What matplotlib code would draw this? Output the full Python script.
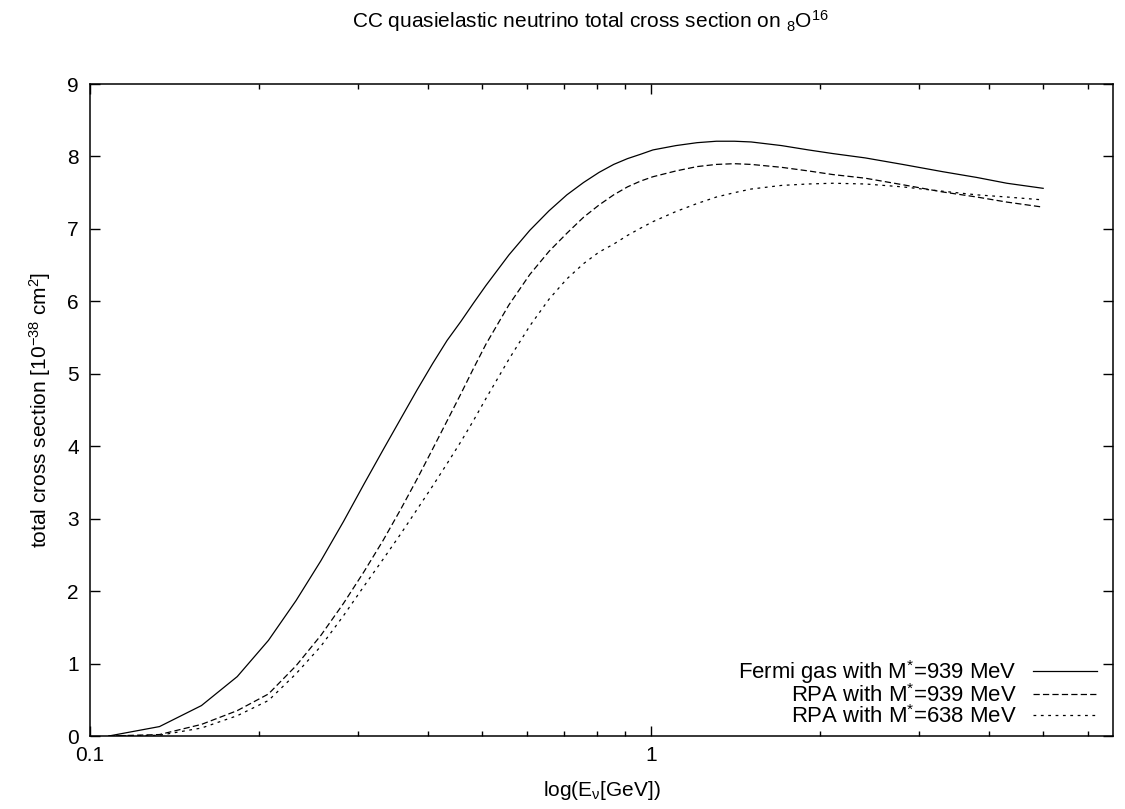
import matplotlib
matplotlib.use("Agg")
import matplotlib.pyplot as plt
from matplotlib.ticker import FixedLocator, NullFormatter, FixedFormatter

plt.rcParams['font.family'] = ['Liberation Sans', 'DejaVu Sans']
plt.rcParams['mathtext.fontset'] = 'custom'
plt.rcParams['mathtext.rm'] = 'Liberation Sans'
plt.rcParams['mathtext.it'] = 'Liberation Sans'
plt.rcParams['lines.scale_dashes'] = False

# ---- data ----
energy = [0.108, 0.133, 0.158, 0.183, 0.208, 0.233, 0.258, 0.283, 0.308, 0.333,
          0.358, 0.383, 0.408, 0.433, 0.458, 0.483, 0.508, 0.558, 0.608, 0.658,
          0.708, 0.758, 0.808, 0.858, 0.908, 0.958, 1.008, 1.108, 1.208, 1.308,
          1.408, 1.508, 1.708, 1.908, 2.108, 2.408, 2.808, 3.308, 3.808, 4.308,
          5.0]
fermi_939 = [0.0, 0.13, 0.42, 0.82, 1.32, 1.87, 2.42, 2.96, 3.48, 3.95,
             4.38, 4.78, 5.14, 5.46, 5.72, 5.98, 6.22, 6.64, 6.98, 7.25,
             7.47, 7.64, 7.78, 7.89, 7.97, 8.03, 8.09, 8.15, 8.19, 8.21,
             8.21, 8.20, 8.15, 8.09, 8.04, 7.98, 7.89, 7.79, 7.71, 7.63,
             7.56]
rpa_939 = [0.0, 0.02, 0.16, 0.35, 0.58, 0.97, 1.39, 1.83, 2.27, 2.70,
           3.13, 3.55, 3.96, 4.35, 4.72, 5.08, 5.41, 5.95, 6.37, 6.69,
           6.94, 7.16, 7.33, 7.47, 7.58, 7.66, 7.72, 7.80, 7.86, 7.89,
           7.90, 7.89, 7.85, 7.80, 7.75, 7.70, 7.61, 7.51, 7.44, 7.37,
           7.30]
rpa_638 = [0.0, 0.01, 0.11, 0.28, 0.49, 0.86, 1.24, 1.66, 2.07, 2.44,
           2.79, 3.13, 3.45, 3.76, 4.06, 4.36, 4.66, 5.20, 5.66, 6.03,
           6.31, 6.52, 6.68, 6.79, 6.91, 7.01, 7.10, 7.24, 7.35, 7.44,
           7.50, 7.55, 7.60, 7.62, 7.63, 7.62, 7.58, 7.52, 7.47, 7.44,
           7.40]
labels = ["Fermi gas with M$^{*}$=939 MeV",
          "RPA with M$^{*}$=939 MeV",
          "RPA with M$^{*}$=638 MeV"]
y_ticks = [0, 1, 2, 3, 4, 5, 6, 7, 8, 9]
x_major = [0.1, 1]
x_major_labels = ["0.1", "1"]
x_minor = [0.2, 0.3, 0.4, 0.5, 0.6, 0.7, 0.8, 0.9, 2, 3, 4, 5, 6]

FS = 15

fig = plt.figure(figsize=(11.25, 8.09), dpi=100)
ax = fig.add_axes([90/1125, 1-736/809, (1113-90)/1125, (736-84)/809])

ax.plot(energy, fermi_939, color='black', lw=0.9, label=labels[0])
ax.plot(energy, rpa_939, color='black', lw=0.9, dashes=(4.5, 2.3), label=labels[1])
ax.plot(energy, rpa_638, color='black', lw=0.9, dashes=(2.0, 3.3), label=labels[2])

ax.set_xscale('log')
ax.set_xlim(0.1, 6.66)
ax.set_ylim(0, 9)

ax.xaxis.set_major_locator(FixedLocator(x_major))
ax.xaxis.set_major_formatter(FixedFormatter(x_major_labels))
ax.xaxis.set_minor_locator(FixedLocator(x_minor))
ax.xaxis.set_minor_formatter(NullFormatter())
ax.yaxis.set_major_locator(FixedLocator(y_ticks))
ax.yaxis.set_minor_locator(FixedLocator([]))

ax.tick_params(which='both', direction='in', top=True, right=True, labelsize=FS,
               width=1.0, colors='black')
ax.tick_params(which='major', length=7)
ax.tick_params(axis='x', which='major', pad=7)
ax.tick_params(axis='y', which='major', pad=8)
ax.tick_params(which='minor', length=3.5)
for s in ax.spines.values():
    s.set_linewidth(1.1)
    s.set_color('black')

ax.set_xlabel(r"log(E$_{\mathrm{\nu}}$[GeV])", fontsize=FS, labelpad=10)
ax.set_ylabel(r"total cross section [10$^{-38}$ cm$^{2}$]", fontsize=FS, labelpad=10)
fig.suptitle(r"CC quasielastic neutrino total cross section on $_{8}$O$^{16}$",
             fontsize=FS, x=0.525, y=0.99)

leg = ax.legend(loc='lower right', markerfirst=False, frameon=False, fontsize=15.9,
                handlelength=2.9, handletextpad=0.7, labelspacing=-0.08,
                borderpad=0.0, borderaxespad=0.0, bbox_to_anchor=(0.984, 0.012))

fig.savefig("out.png", dpi=100)
